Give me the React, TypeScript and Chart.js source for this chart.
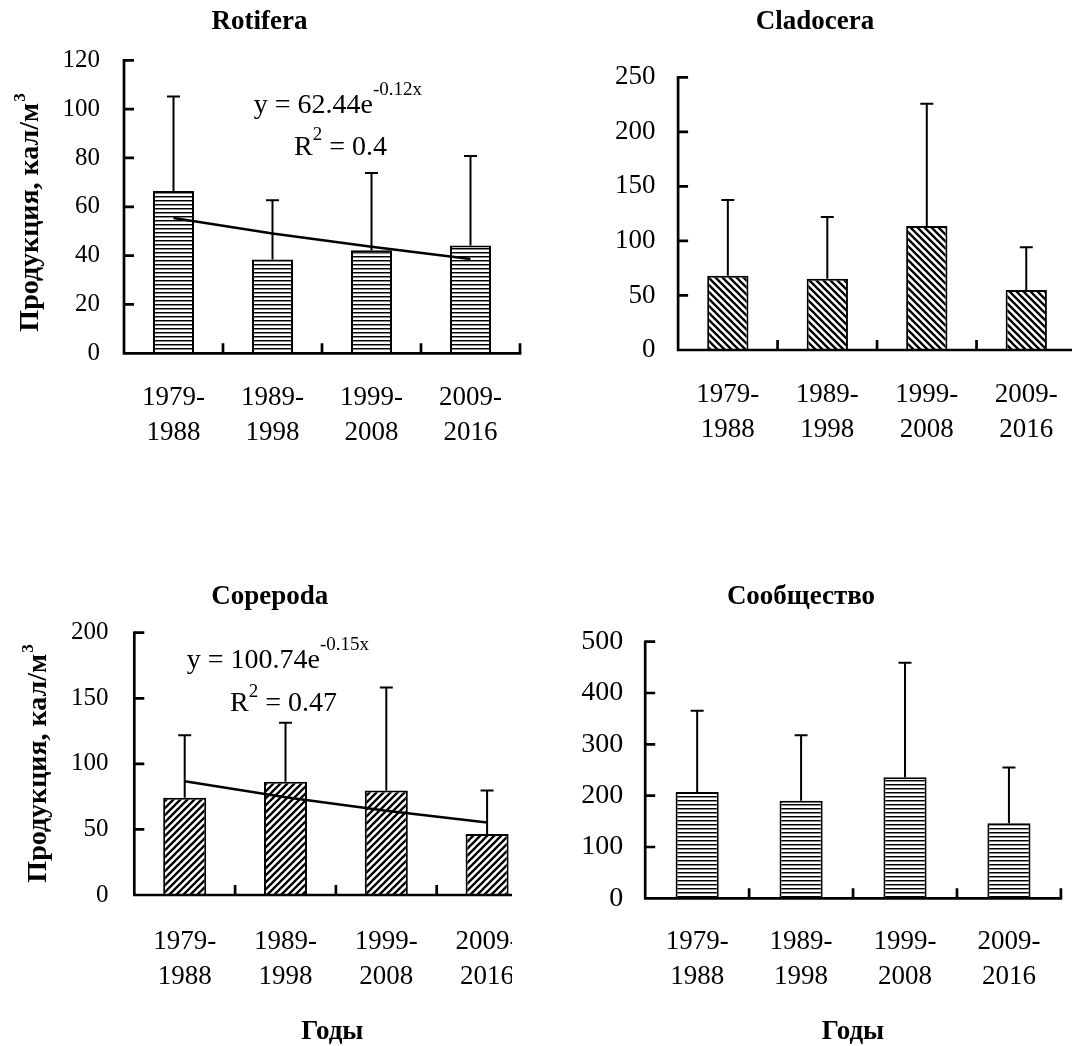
import React, { useEffect, useRef } from "react";
import { Chart, registerables } from "chart.js";

Chart.register(...registerables);

// ---------- data ----------
const categories = [
  ["1979-", "1988"],
  ["1989-", "1998"],
  ["1999-", "2008"],
  ["2009-", "2016"],
];

const rotiferaMean = [66.5, 38.4, 42.2, 44.2];
const rotiferaErrTop = [105.2, 62.7, 73.8, 80.8];
const rotiferaTrend = [55.4, 49.1, 43.6, 38.6];

const cladoceraMean = [68.1, 65.4, 113.7, 55.0];
const cladoceraErrTop = [137.5, 121.9, 225.8, 94.1];

const copepodaMean = [74.2, 86.4, 79.6, 46.5];
const copepodaErrTop = [121.8, 131.4, 158.2, 79.6];
const copepodaTrend = [86.7, 74.6, 64.2, 55.3];

const communityMean = [207, 190, 235.7, 146];
const communityErrTop = [365.4, 317.5, 459, 255];

const yMaxes = [120, 250, 200, 500];
const ySteps = [20, 50, 50, 100];

const titles = ["Rotifera", "Cladocera", "Copepoda", "Сообщество"];
const yAxisTitle = "Продукция, кал/м";
const yAxisTitleSup = "3";
const xAxisTitle = "Годы";
const rotiferaEq = ["y = 62.44e", "-0.12x", "R", "2", " = 0.4"];
const copepodaEq = ["y = 100.74e", "-0.15x", "R", "2", " = 0.47"];

const SERIF = "'Liberation Serif', 'Times New Roman', serif";

type Pat = "h" | "back" | "fwd";

function makePattern(kind: Pat): CanvasPattern | string {
  const c = document.createElement("canvas");
  const ctx = c.getContext("2d");
  if (!ctx) return "#fff";
  if (kind === "h") {
    c.width = 4;
    c.height = 4;
    ctx.fillStyle = "#fff";
    ctx.fillRect(0, 0, 4, 4);
    ctx.fillStyle = "#000";
    ctx.fillRect(0, 0, 4, 1);
    ctx.fillStyle = "rgba(0,0,0,0.45)";
    ctx.fillRect(0, 1, 4, 1);
  } else {
    const s = 7;
    c.width = s;
    c.height = s;
    ctx.fillStyle = "#fff";
    ctx.fillRect(0, 0, s, s);
    ctx.strokeStyle = "#000";
    ctx.lineWidth = 2.3;
    ctx.beginPath();
    for (let k = -1; k <= 2; k++) {
      if (kind === "back") {
        ctx.moveTo(-1, k * s - 1);
        ctx.lineTo(s + 1, k * s + s + 1);
      } else {
        ctx.moveTo(-1, k * s + 1);
        ctx.lineTo(s + 1, k * s - s - 1);
      }
    }
    ctx.stroke();
  }
  return ctx.createPattern(c, "repeat") || "#fff";
}

type Panel = {
  left: number;
  top: number;
  clipW: number;
  cw: number;
  ch: number;
  area: { left: number; top: number; right: number; bottom: number };
  yMax: number;
  yStep: number;
  mean: number[];
  err: number[];
  trend?: number[];
  pattern: Pat;
  title: string;
  titleX: number;
  titleY: number;
  yTickSize: number;
  yTickPad: number;
  xTickSize: number;
  xTickPad: number;
  yTitle?: { bx: number; cy: number; size: number };
  xTitle?: { x: number; y: number; size: number };
  eq?: { lines: string[]; x1: number; y1: number; x2: number; y2: number; d1: number; d2: number };
  barPct: number;
  endTick: boolean;
};

const panels: Panel[] = [
  {
    left: 0, top: 0, clipW: 536, cw: 536, ch: 460,
    area: { left: 124, top: 60.3, right: 520, bottom: 353.3 },
    yMax: yMaxes[0], yStep: ySteps[0],
    mean: rotiferaMean, err: rotiferaErrTop, trend: rotiferaTrend,
    pattern: "h", title: titles[0], titleX: 259.5, titleY: 22,
    yTickSize: 25, yTickPad: 24, xTickSize: 27, xTickPad: 27,
    yTitle: { bx: 38, cy: 213, size: 28 },
    eq: { lines: rotiferaEq, x1: 253.8, y1: 112.5, x2: 294, y2: 155, d1: 18, d2: 15 },
    barPct: 0.414, endTick: true,
  },
  {
    left: 536, top: 0, clipW: 536, cw: 560, ch: 460,
    area: { left: 142.1, top: 77.3, right: 540, bottom: 350 },
    yMax: yMaxes[1], yStep: ySteps[1],
    mean: cladoceraMean, err: cladoceraErrTop,
    pattern: "back", title: titles[1], titleX: 279, titleY: 22,
    yTickSize: 27, yTickPad: 22.7, xTickSize: 27, xTickPad: 27.5,
    barPct: 0.415, endTick: false,
  },
  {
    left: 0, top: 560, clipW: 512, cw: 560, ch: 486,
    area: { left: 134.3, top: 72.7, right: 537.5, bottom: 335 },
    yMax: yMaxes[2], yStep: ySteps[2],
    mean: copepodaMean, err: copepodaErrTop, trend: copepodaTrend,
    pattern: "fwd", title: titles[2], titleX: 269.8, titleY: 36.7,
    yTickSize: 25, yTickPad: 25.8, xTickSize: 27, xTickPad: 29.5,
    yTitle: { bx: 46, cy: 204, size: 28 },
    xTitle: { x: 332.3, y: 472, size: 27 },
    eq: { lines: copepodaEq, x1: 186.7, y1: 108.3, x2: 230, y2: 151, d1: 18, d2: 14.5 },
    barPct: 0.427, endTick: true,
  },
  {
    left: 536, top: 560, clipW: 536, cw: 536, ch: 486,
    area: { left: 109.2, top: 81.7, right: 524.9, bottom: 338.3 },
    yMax: yMaxes[3], yStep: ySteps[3],
    mean: communityMean, err: communityErrTop,
    pattern: "h", title: titles[3], titleX: 265, titleY: 36.7,
    yTickSize: 28, yTickPad: 22, xTickSize: 27, xTickPad: 26,
    xTitle: { x: 317, y: 472, size: 27 },
    barPct: 0.415, endTick: true,
  },
];

function makeDecorPlugin(p: Panel) {
  return {
    id: "decor",
    afterDatasetsDraw(chart: any) {
      const ctx: CanvasRenderingContext2D = chart.ctx;
      const ca = chart.chartArea;
      const y = chart.scales.y;
      ctx.save();
      ctx.strokeStyle = "#000";
      ctx.fillStyle = "#000";

      // error bars (upper)
      const barMeta = chart.getDatasetMeta(chart.data.datasets.length - 1);
      ctx.lineWidth = 2;
      barMeta.data.forEach((el: any, i: number) => {
        const yt = y.getPixelForValue(p.err[i]);
        ctx.beginPath();
        ctx.moveTo(el.x, el.y);
        ctx.lineTo(el.x, yt);
        ctx.moveTo(el.x - 6.5, yt);
        ctx.lineTo(el.x + 6.5, yt);
        ctx.stroke();
      });

      // axes
      ctx.lineWidth = 2.7;
      const yTop = y.getPixelForValue(p.yMax);
      const y0 = y.getPixelForValue(0);
      ctx.beginPath();
      ctx.moveTo(ca.left, yTop - 1.3);
      ctx.lineTo(ca.left, y0);
      ctx.moveTo(ca.left - 1.3, y0);
      ctx.lineTo(ca.right + 1.3, y0);
      ctx.stroke();
      ctx.beginPath();
      for (let v = p.yStep; v <= p.yMax; v += p.yStep) {
        const py = y.getPixelForValue(v);
        ctx.moveTo(ca.left, py);
        ctx.lineTo(ca.left + 10, py);
      }
      const n = categories.length;
      const cwid = (ca.right - ca.left) / n;
      for (let i = 1; i <= n; i++) {
        if (i === n && !p.endTick) continue;
        const px = ca.left + i * cwid;
        ctx.moveTo(px, y0);
        ctx.lineTo(px, y0 - 10);
      }
      ctx.stroke();

      // title
      ctx.font = `bold 27px ${SERIF}`;
      ctx.textAlign = "center";
      ctx.textBaseline = "middle";
      ctx.fillText(p.title, p.titleX, p.titleY);

      // x title
      if (p.xTitle) {
        ctx.font = `bold ${p.xTitle.size}px ${SERIF}`;
        ctx.fillText(xAxisTitle, p.xTitle.x, p.xTitle.y);
      }

      // y title
      if (p.yTitle) {
        const t = p.yTitle;
        const supSize = Math.round(t.size * 0.62);
        ctx.save();
        ctx.translate(t.bx, t.cy);
        ctx.rotate(-Math.PI / 2);
        ctx.textAlign = "left";
        ctx.textBaseline = "alphabetic";
        ctx.font = `bold ${t.size}px ${SERIF}`;
        const wMain = ctx.measureText(yAxisTitle).width;
        ctx.font = `bold ${supSize}px ${SERIF}`;
        const wSup = ctx.measureText(yAxisTitleSup).width;
        const start = -(wMain + wSup) / 2;
        ctx.font = `bold ${t.size}px ${SERIF}`;
        ctx.fillText(yAxisTitle, start, 0);
        ctx.font = `bold ${supSize}px ${SERIF}`;
        ctx.fillText(yAxisTitleSup, start + wMain + 1, -t.size * 0.45);
        ctx.restore();
      }

      // trend equation
      if (p.eq) {
        const e = p.eq;
        ctx.textAlign = "left";
        ctx.textBaseline = "alphabetic";
        ctx.font = `28px ${SERIF}`;
        ctx.fillText(e.lines[0], e.x1, e.y1);
        const w0 = ctx.measureText(e.lines[0]).width;
        ctx.font = `19px ${SERIF}`;
        ctx.fillText(e.lines[1], e.x1 + w0, e.y1 - e.d1);
        ctx.font = `28px ${SERIF}`;
        ctx.fillText(e.lines[2], e.x2, e.y2);
        const wR = ctx.measureText(e.lines[2]).width;
        ctx.font = `19px ${SERIF}`;
        ctx.fillText(e.lines[3], e.x2 + wR, e.y2 - e.d2);
        const w2 = ctx.measureText(e.lines[3]).width;
        ctx.font = `28px ${SERIF}`;
        ctx.fillText(e.lines[4], e.x2 + wR + w2, e.y2);
      }
      ctx.restore();
    },
  };
}

function PanelChart({ p }: { p: Panel }) {
  const ref = useRef<HTMLCanvasElement | null>(null);
  useEffect(() => {
    if (!ref.current) return;
    const datasets: any[] = [];
    if (p.trend) {
      datasets.push({
        type: "line",
        data: p.trend,
        borderColor: "#000",
        borderWidth: 2.5,
        pointRadius: 0,
        fill: false,
        tension: 0,
        order: 0,
      });
    }
    datasets.push({
      type: "bar",
      data: p.mean,
      backgroundColor: makePattern(p.pattern),
      borderColor: "#000",
      borderWidth: 2,
      barPercentage: p.barPct,
      categoryPercentage: 1,
      order: 1,
    });
    const chart = new Chart(ref.current, {
      type: "bar",
      data: { labels: categories, datasets },
      options: {
        responsive: false,
        animation: false,
        devicePixelRatio: 1,
        layout: {
          padding: { left: 0, top: p.area.top, right: p.cw - p.area.right, bottom: 0 },
        },
        plugins: {
          legend: { display: false },
          tooltip: { enabled: false },
          title: { display: false },
        },
        scales: {
          x: {
            type: "category",
            offset: true,
            grid: { display: false, drawTicks: false },
            border: { display: false },
            ticks: {
              color: "#000",
              font: { family: SERIF, size: p.xTickSize, lineHeight: 35 / p.xTickSize },
              padding: p.xTickPad,
              autoSkip: false,
              maxRotation: 0,
              minRotation: 0,
            },
            afterFit: (s: any) => {
              s.height = p.ch - p.area.bottom;
            },
          },
          y: {
            min: 0,
            max: p.yMax,
            grid: { display: false, drawTicks: false },
            border: { display: false },
            ticks: {
              stepSize: p.yStep,
              color: "#000",
              font: { family: SERIF, size: p.yTickSize },
              padding: p.yTickPad,
            },
            afterFit: (s: any) => {
              s.width = p.area.left;
            },
          },
        },
      } as any,
      plugins: [makeDecorPlugin(p)],
    });
    return () => chart.destroy();
  }, [p]);
  return (
    <div
      style={{
        position: "absolute",
        left: p.left,
        top: p.top,
        width: p.clipW,
        height: p.ch,
        overflow: "hidden",
      }}
    >
      <canvas ref={ref} width={p.cw} height={p.ch} style={{ display: "block" }} />
    </div>
  );
}

export default function App() {
  return (
    <div
      style={{
        position: "absolute",
        left: 0,
        top: 0,
        width: 1072,
        height: 1046,
        background: "#fff",
        overflow: "hidden",
      }}
    >
      {panels.map((p, i) => (
        <PanelChart key={i} p={p} />
      ))}
    </div>
  );
}
